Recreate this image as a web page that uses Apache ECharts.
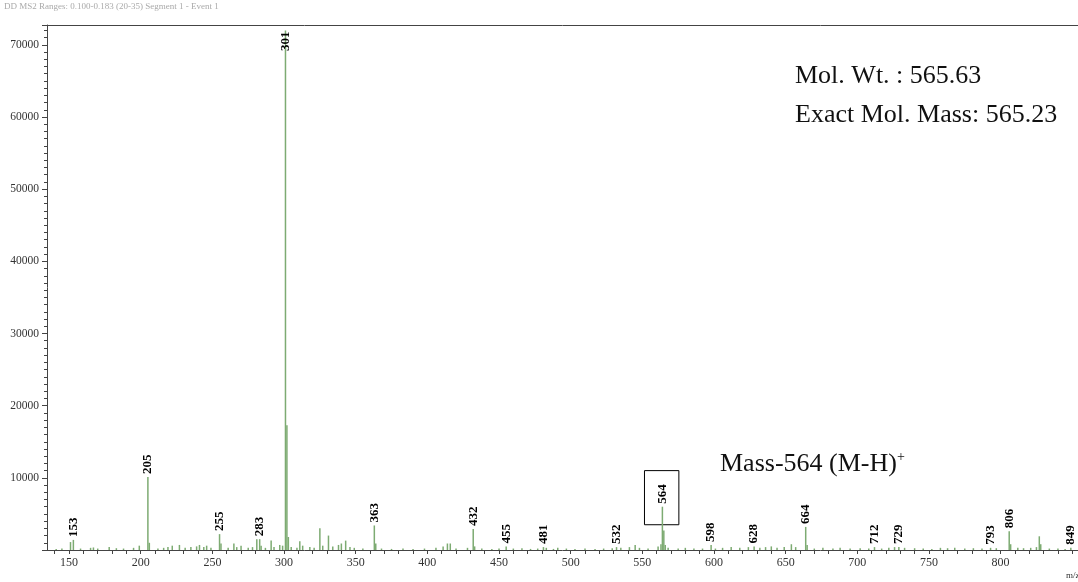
<!DOCTYPE html>
<html>
  <head>
    <meta charset="UTF-8" />
    <title></title>
    <style type="text/css">
      * {
        margin: 0;
        padding: 0;
      }
      #main {
        width: 1078px;
        height: 582px;
        background-color: #fff;
      }
    </style>
  </head>
  <body>
    <div id="main"></div>
  </body>
  <script src="https://cdn.jsdelivr.net/npm/echarts@6/dist/echarts.min.js"></script>
  <script type="text/javascript">
    // m/z 和强度 (从图上读出来的)
    var mz = [141, 145, 151, 153, 158, 165, 167, 170, 178, 183, 188, 195, 199, 205, 206, 212, 216, 219, 222, 227,
      231, 235, 239, 241, 244, 246, 249, 255, 256, 261, 265, 267, 270, 275, 278, 281, 283, 284, 287, 291,
      293, 297, 299, 301, 302, 303, 305, 309, 311, 313, 318, 321, 325, 327, 331, 334, 338, 340, 343, 346,
      349, 355, 363, 364, 368, 375, 383, 390, 398, 406, 411, 414, 416, 420, 428, 432, 433, 438, 445, 450,
      455, 460, 466, 472, 477, 481, 483, 488, 491, 497, 503, 510, 517, 523, 529, 532, 535, 541, 545, 548,
      554, 561, 563, 564, 565, 566, 568, 575, 580, 586, 592, 598, 601, 606, 612, 618, 624, 628, 632, 636,
      640, 644, 649, 654, 657, 664, 665, 670, 676, 683, 688, 695, 702, 708, 712, 717, 722, 726, 729, 733,
      740, 746, 752, 758, 763, 768, 775, 781, 787, 793, 797, 806, 807, 812, 816, 821, 825, 827, 828, 834,
      840, 845, 849]
    var intensity = [150, 200, 1100, 1400, 200, 300, 350, 200, 400, 250, 200, 300, 600, 10100, 1000, 200, 300, 400, 600, 700,
      300, 400, 500, 700, 400, 600, 300, 2200, 900, 300, 900, 400, 600, 300, 400, 1500, 1500, 600, 300, 1300,
      400, 700, 600, 72000, 17300, 1800, 400, 300, 1200, 600, 400, 300, 3000, 600, 2000, 500, 700, 900, 1300, 400,
      300, 200, 3400, 900, 200, 150, 200, 150, 200, 300, 500, 900, 900, 200, 300, 2900, 500, 200, 150, 200,
      500, 200, 250, 150, 200, 400, 300, 150, 300, 200, 150, 200, 150, 200, 250, 400, 300, 400, 700, 300,
      200, 500, 800, 6000, 2700, 700, 300, 200, 300, 200, 200, 700, 200, 300, 400, 300, 400, 500, 300, 400,
      500, 300, 400, 800, 400, 3200, 700, 200, 300, 200, 300, 200, 250, 200, 400, 200, 300, 400, 400, 300,
      250, 200, 150, 300, 250, 300, 200, 250, 200, 300, 250, 2600, 800, 300, 250, 300, 400, 1900, 800, 200,
      200, 150, 300]
    // 标注了数字的峰
    var labeledPeaks = [153, 205, 255, 283, 301, 363, 432, 455, 481, 532, 564, 598, 628, 664, 712, 729, 793, 806, 849]
    var xTicks = [150, 200, 250, 300, 350, 400, 450, 500, 550, 600, 650, 700, 750, 800]
    var yTicks = [10000, 20000, 30000, 40000, 50000, 60000, 70000]
    var boxedPeak = 564

    var serif = '"Liberation Serif", "Times New Roman", serif'
    var minorX = []
    for (var t = 140; t <= 850; t += 10) minorX.push(t)

    var data = mz.map(function (m, i) {
      var item = { value: [m, intensity[i]] }
      if (labeledPeaks.indexOf(m) >= 0) {
        item.label = { show: true }
        if (m === 301) {
          // 最高峰的标签放在顶部里面
          item.label = { show: true, position: 'insideTop', align: 'right', distance: 1 }
        }
      }
      return item
    })

    var myCharts = echarts.init(document.getElementById('main'))
    var option = {
      animation: false,
      grid: { left: 47, right: 0, top: 25, bottom: 32, outerBoundsMode: 'none' },
      xAxis: [
        {
          type: 'value',
          min: 134.6,
          max: 854,
          splitLine: { show: false },
          axisLine: { lineStyle: { color: '#444' } },
          axisTick: { customValues: minorX, length: 4, lineStyle: { color: '#444' } },
          axisLabel: { customValues: xTicks, fontFamily: serif, fontSize: 12, color: '#333', margin: 7 }
        },
        {
          type: 'value',
          position: 'top',
          min: 134.6,
          max: 854,
          splitLine: { show: false },
          axisLine: { show: true, lineStyle: { color: '#444' } },
          axisTick: { show: false },
          axisLabel: { show: false }
        }
      ],
      yAxis: {
        type: 'value',
        min: 0,
        max: 72750,
        interval: 10000,
        splitLine: { show: false },
        axisLine: { show: true, lineStyle: { color: '#444' } },
        axisTick: { show: true, length: 5, lineStyle: { color: '#444' } },
        minorTick: { show: true, splitNumber: 10, length: 3, lineStyle: { color: '#444' } },
        axisLabel: {
          fontFamily: serif,
          fontSize: 11.5,
          color: '#333',
          margin: 8,
          formatter: function (v) {
            return yTicks.indexOf(v) >= 0 ? v : ''
          }
        }
      },
      series: [
        {
          type: 'bar',
          barWidth: 1.5,
          itemStyle: { color: '#7dab72' },
          label: {
            show: false,
            position: 'top',
            rotate: 90,
            align: 'left',
            verticalAlign: 'middle',
            distance: 3,
            fontFamily: serif,
            fontWeight: 'bold',
            fontSize: 13,
            color: '#000',
            formatter: function (p) {
              return p.value[0]
            }
          },
          data: data,
          markArea: {
            silent: true,
            itemStyle: { color: 'rgba(0,0,0,0)', borderColor: '#000', borderWidth: 1 },
            data: [[{ coord: [boxedPeak - 12.5, 3500] }, { coord: [boxedPeak + 11.5, 11000] }]]
          }
        }
      ],
      graphic: [
        {
          type: 'text',
          left: 4,
          top: 2,
          style: { text: 'DD MS2 Ranges: 0.100-0.183 (20-35) Segment 1 - Event 1', fill: '#aaa', font: '9px ' + serif }
        },
        {
          type: 'text',
          left: 795,
          top: 63,
          style: { text: 'Mol. Wt. : 565.63', fill: '#111', font: '26px ' + serif }
        },
        {
          type: 'text',
          left: 795,
          top: 102,
          style: { text: 'Exact Mol. Mass: 565.23', fill: '#111', font: '26px ' + serif }
        },
        {
          type: 'text',
          left: 720,
          top: 450,
          style: {
            text: '{a|Mass-564 (M-H)}{s|+}',
            rich: {
              a: { font: '26px ' + serif, fill: '#111' },
              s: { font: '14px ' + serif, fill: '#111', verticalAlign: 'top', padding: [0, 0, 14, 0] }
            }
          }
        },
        {
          type: 'text',
          left: 1066,
          top: 571,
          style: { text: 'm/z', fill: '#333', font: '9px ' + serif }
        }
      ]
    }
    myCharts.setOption(option)
  </script>
</html>
